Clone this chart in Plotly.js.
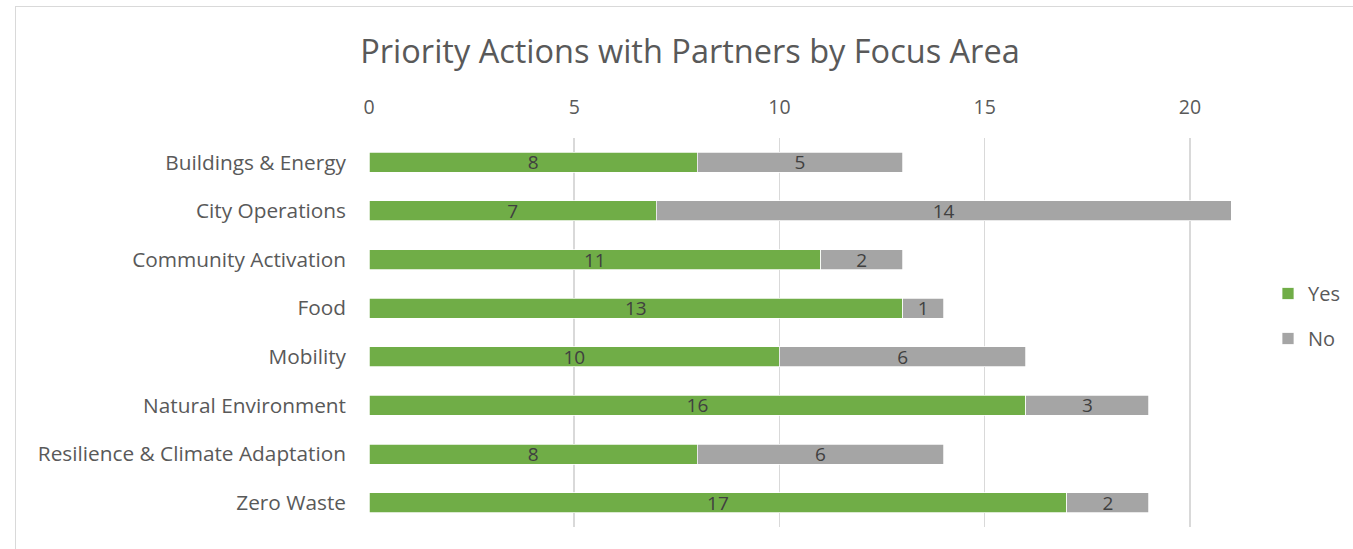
<!DOCTYPE html>
<html>
<head>
<meta charset="utf-8">
<script src="https://cdn.plot.ly/plotly-3.0.1.min.js"></script>
<style>
  html, body { margin: 0; padding: 0; background: #fff; }
  #frame { position: absolute; left: 15px; top: 6px; width: 1400px; height: 600px; border: 1px solid #D9D9D9; box-sizing: border-box; }
  #chart { position: absolute; left: 0; top: 0; width: 1353px; height: 549px; }
</style>
</head>
<body>
<div id="frame"></div>
<div id="chart"></div>
<script>
const categories = ["Buildings & Energy", "City Operations", "Community Activation", "Food", "Mobility", "Natural Environment", "Resilience & Climate Adaptation", "Zero Waste"];
const yesValues = [8, 7, 11, 13, 10, 16, 8, 17];
const noValues = [5, 14, 2, 1, 6, 3, 6, 2];
const xTicks = [0, 5, 10, 15, 20];

const font = "Open Sans, Noto Sans, sans-serif";
const common = {
  type: "bar", orientation: "h", y: categories,
  textposition: "inside", insidetextanchor: "middle", constraintext: "none", textangle: 0,
  textfont: { family: font, size: 19, color: "#404040" },
  hoverinfo: "x+y"
};
const traces = [
  Object.assign({}, common, { name: "Yes", x: yesValues, text: yesValues.map(String), legendgroup: "a",
    marker: { color: "#70AD47", line: { color: "#FFFFFF", width: 0.75 } } }),
  Object.assign({}, common, { name: "No", x: noValues, text: noValues.map(String), legendgroup: "b",
    marker: { color: "#A5A5A5", line: { color: "#FFFFFF", width: 0.75 } } })
];
const layout = {
  width: 1353, height: 549,
  paper_bgcolor: "rgba(0,0,0,0)", plot_bgcolor: "rgba(0,0,0,0)",
  margin: { l: 369, r: 122, t: 138, b: 22 },
  barmode: "stack", bargap: 0.59,
  font: { family: font, color: "#595959" },
  title: { text: "Priority Actions with Partners by Focus Area", font: { family: font, size: 32.5, color: "#595959" },
    xref: "container", x: 690/1353, xanchor: "center", yref: "container", y: 1 - 52/549, yanchor: "middle" },
  xaxis: { side: "top", range: [0, 21], tickvals: xTicks, ticktext: xTicks.map(String), showgrid: true, gridcolor: "#D9D9D9", gridwidth: 1.5,
    zeroline: false, showline: false, ticks: "", ticklen: 0, ticklabelstandoff: 19,
    tickfont: { family: font, size: 19.5, color: "#595959" } },
  yaxis: { autorange: "reversed", showgrid: false, zeroline: false, showline: false, ticks: "", ticklabelstandoff: 22,
    tickfont: { family: font, size: 20.8, color: "#595959" } },
  showlegend: true,
  legend: { x: 1268/1353, xref: "container", y: 1 - 274/549, yref: "container", yanchor: "top", xanchor: "left",
    traceorder: "grouped", tracegroupgap: 16, font: { family: font, size: 20, color: "#595959" }, itemwidth: 30 }
};
Plotly.newPlot("chart", traces, layout, { displayModeBar: false, staticPlot: true });
</script>
</body>
</html>
